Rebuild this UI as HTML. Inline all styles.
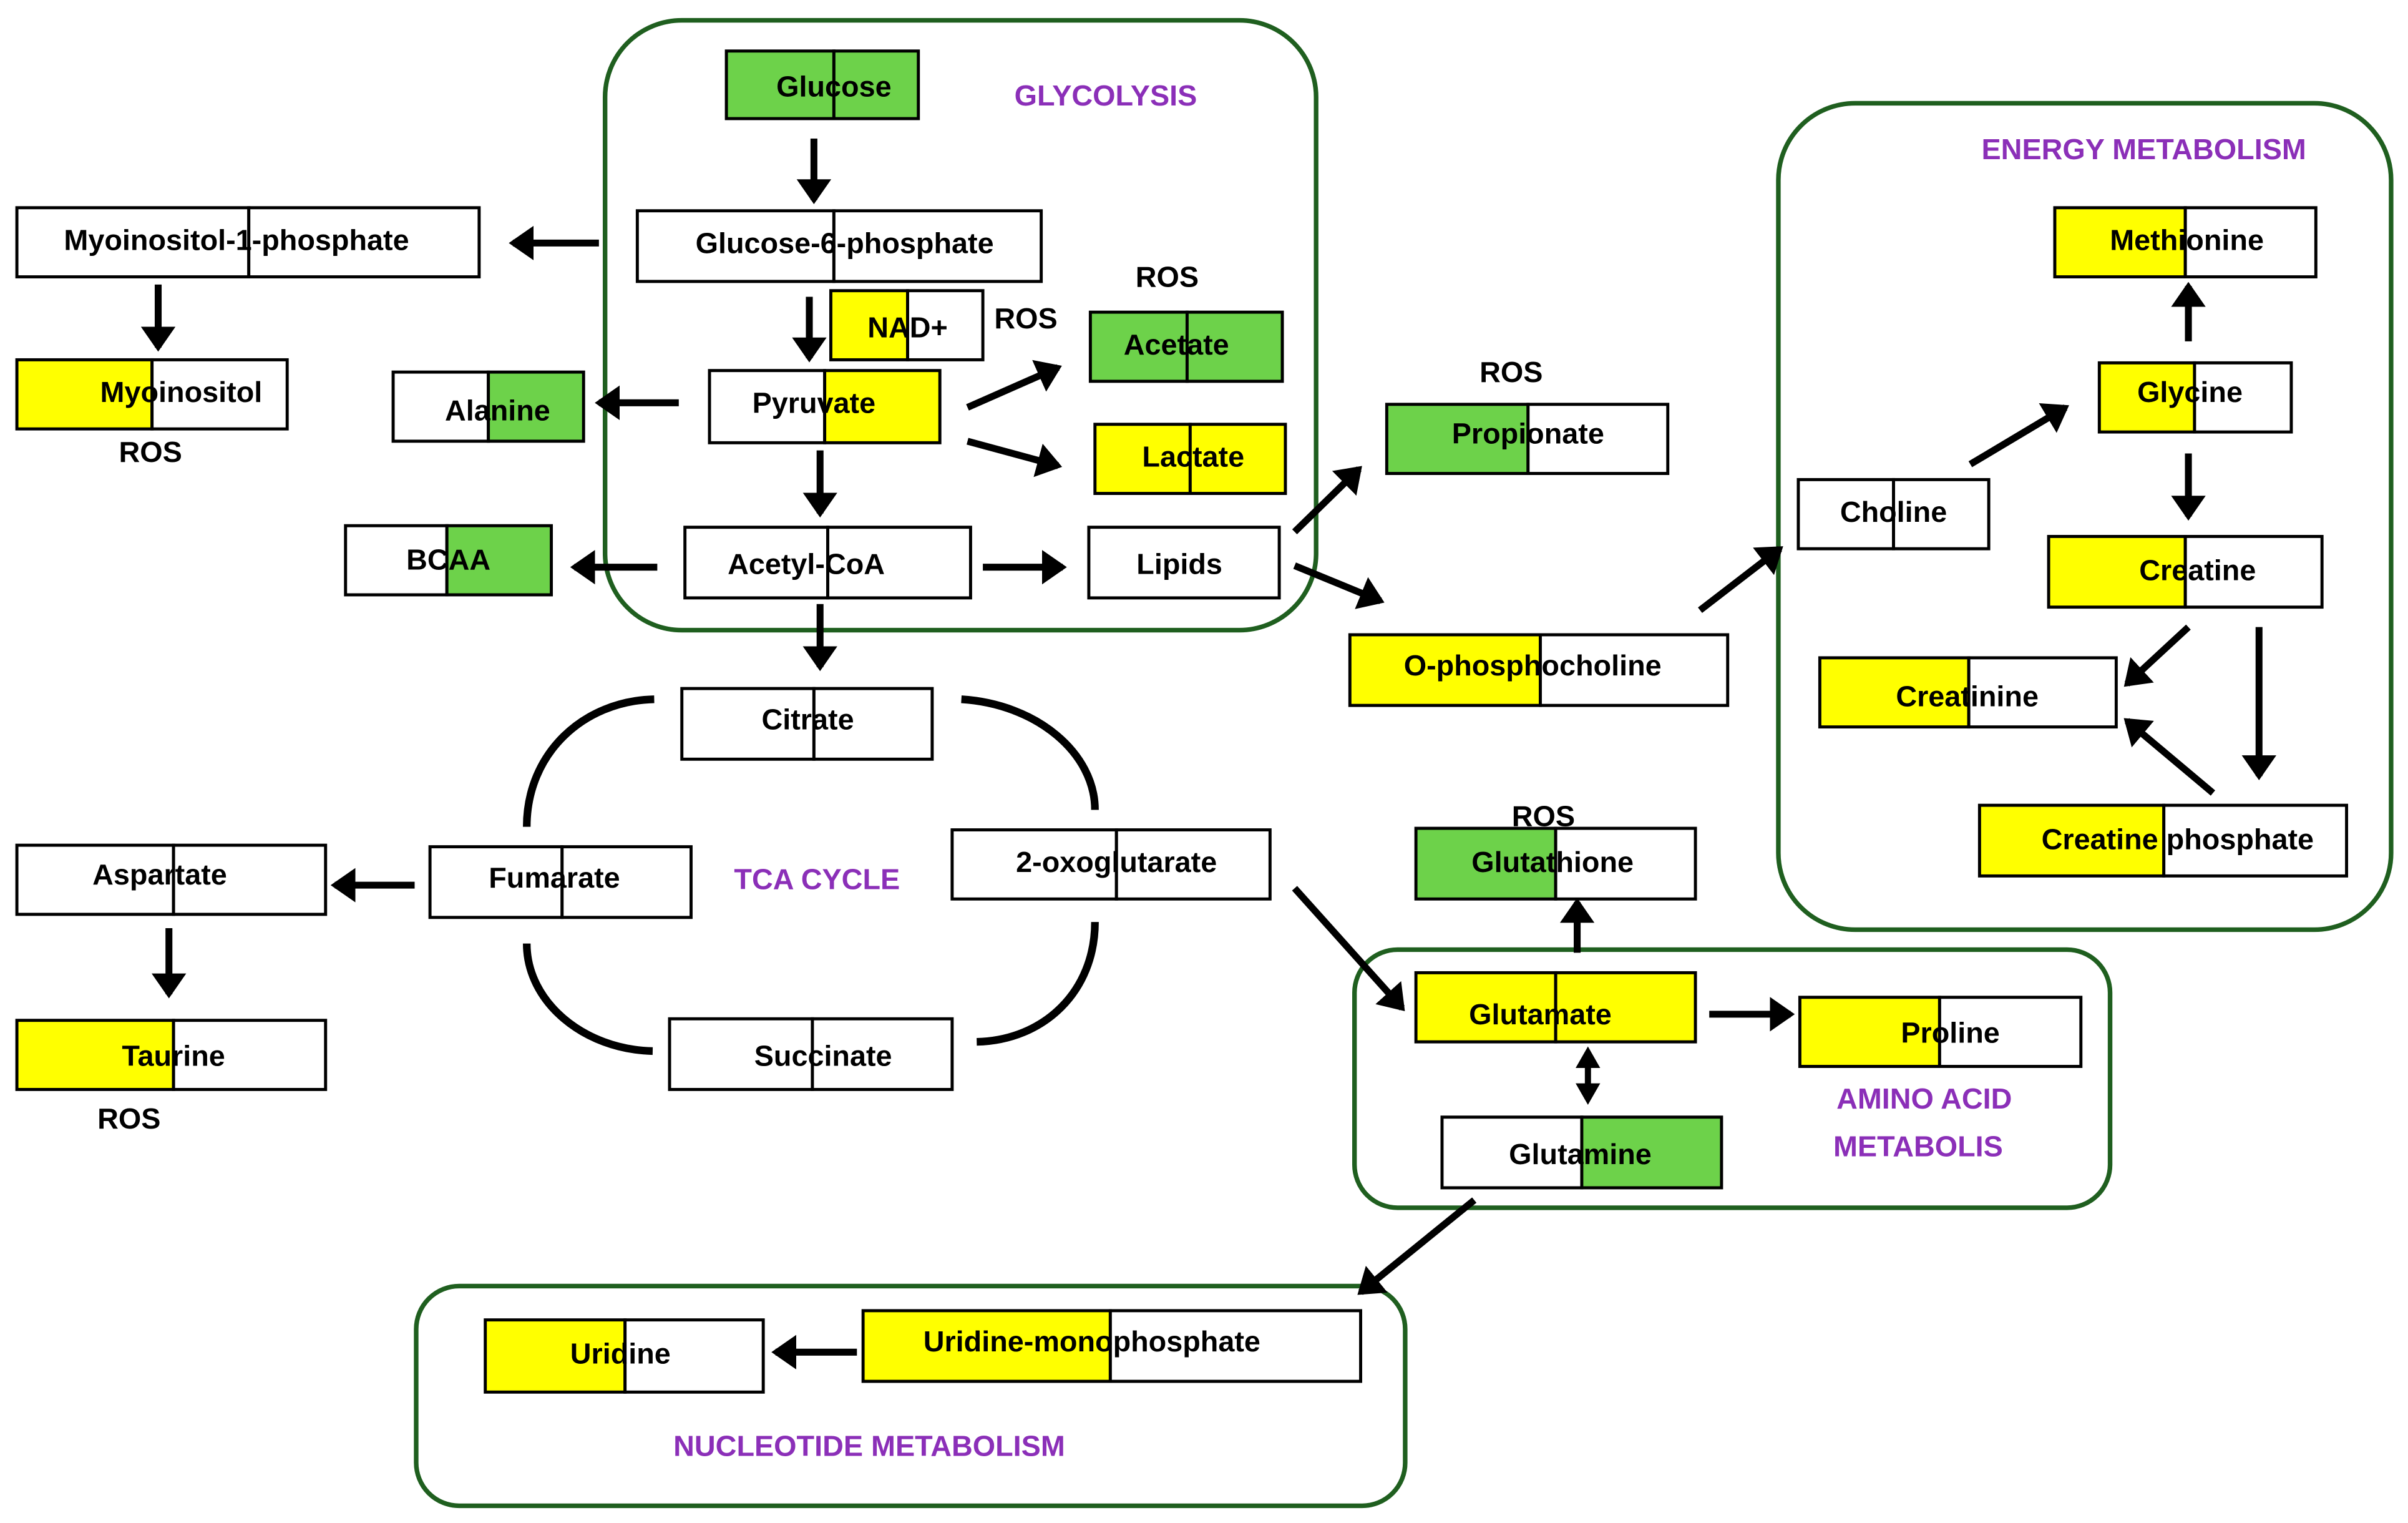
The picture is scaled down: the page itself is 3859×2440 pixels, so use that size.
<!DOCTYPE html>
<html><head><meta charset="utf-8"><style>
html,body{margin:0;padding:0;background:#fff}
svg{display:block}
text{font-family:"Liberation Sans Narrow","Liberation Sans",sans-serif;font-weight:bold}
.t{font-size:19px;fill:#000;text-anchor:middle;dominant-baseline:central}
.p{font-size:19px;fill:#8b2fb8;text-anchor:middle;dominant-baseline:central}
.r{font-size:19px;fill:#000;text-anchor:middle;dominant-baseline:central}
.a{stroke:#000;stroke-width:4.5;fill:none;marker-end:url(#h)}
.g{fill:none;stroke:#1f5f1f;stroke-width:3}
</style></head><body>
<svg width="3859" height="2440" viewBox="0 0 1568 991" xmlns="http://www.w3.org/2000/svg">
<defs><marker id="h" markerWidth="5" markerHeight="5" refX="3" refY="2.5" orient="auto" markerUnits="strokeWidth"><path d="M0,0 L3.6,2.5 L0,5 Z" fill="#000"/></marker></defs>
<rect width="1568" height="991" fill="#fff"/>
<rect class="g" x="394" y="13" width="463" height="397" rx="50"/>
<rect class="g" x="1158" y="67" width="399" height="538" rx="50"/>
<rect class="g" x="882" y="618" width="492" height="168" rx="28"/>
<rect class="g" x="271" y="837" width="644" height="143" rx="28"/>
<text class="p" x="720" y="62">GLYCOLYSIS</text>
<text class="p" x="1396" y="97">ENERGY METABOLISM</text>
<text class="p" x="532" y="572">TCA CYCLE</text>
<text class="p" x="1253" y="715">AMINO ACID</text>
<text class="p" x="1249" y="746">METABOLIS</text>
<text class="p" x="566" y="941">NUCLEOTIDE METABOLISM</text>
<text class="r" x="760" y="180">ROS</text>
<text class="r" x="668" y="207">ROS</text>
<text class="r" x="984" y="242">ROS</text>
<text class="r" x="98" y="294">ROS</text>
<text class="r" x="1005" y="531">ROS</text>
<text class="r" x="84" y="728">ROS</text>
<g stroke="#000" stroke-width="2">
<rect x="473" y="33" width="70" height="44" fill="#6dd24a"/><rect x="543" y="33" width="55" height="44" fill="#6dd24a"/>
<rect x="415" y="137" width="128" height="46" fill="#fff"/><rect x="543" y="137" width="135" height="46" fill="#fff"/>
<rect x="541" y="189" width="50" height="45" fill="#ffff00"/><rect x="591" y="189" width="49" height="45" fill="#fff"/>
<rect x="462" y="241" width="75" height="47" fill="#fff"/><rect x="537" y="241" width="75" height="47" fill="#ffff00"/>
<rect x="710" y="203" width="63" height="45" fill="#6dd24a"/><rect x="773" y="203" width="62" height="45" fill="#6dd24a"/>
<rect x="713" y="276" width="62" height="45" fill="#ffff00"/><rect x="775" y="276" width="62" height="45" fill="#ffff00"/>
<rect x="446" y="343" width="93" height="46" fill="#fff"/><rect x="539" y="343" width="93" height="46" fill="#fff"/>
<rect x="709" y="343" width="124" height="46" fill="#fff"/>
<rect x="11" y="135" width="151" height="45" fill="#fff"/><rect x="162" y="135" width="150" height="45" fill="#fff"/>
<rect x="11" y="234" width="88" height="45" fill="#ffff00"/><rect x="99" y="234" width="88" height="45" fill="#fff"/>
<rect x="256" y="242" width="62" height="45" fill="#fff"/><rect x="318" y="242" width="62" height="45" fill="#6dd24a"/>
<rect x="225" y="342" width="66" height="45" fill="#fff"/><rect x="291" y="342" width="68" height="45" fill="#6dd24a"/>
<rect x="444" y="448" width="86" height="46" fill="#fff"/><rect x="530" y="448" width="77" height="46" fill="#fff"/>
<rect x="280" y="551" width="86" height="46" fill="#fff"/><rect x="366" y="551" width="84" height="46" fill="#fff"/>
<rect x="620" y="540" width="107" height="45" fill="#fff"/><rect x="727" y="540" width="100" height="45" fill="#fff"/>
<rect x="436" y="663" width="93" height="46" fill="#fff"/><rect x="529" y="663" width="91" height="46" fill="#fff"/>
<rect x="11" y="550" width="102" height="45" fill="#fff"/><rect x="113" y="550" width="99" height="45" fill="#fff"/>
<rect x="11" y="664" width="102" height="45" fill="#ffff00"/><rect x="113" y="664" width="99" height="45" fill="#fff"/>
<rect x="903" y="263" width="92" height="45" fill="#6dd24a"/><rect x="995" y="263" width="91" height="45" fill="#fff"/>
<rect x="879" y="413" width="124" height="46" fill="#ffff00"/><rect x="1003" y="413" width="122" height="46" fill="#fff"/>
<rect x="922" y="539" width="91" height="46" fill="#6dd24a"/><rect x="1013" y="539" width="91" height="46" fill="#fff"/>
<rect x="922" y="633" width="91" height="45" fill="#ffff00"/><rect x="1013" y="633" width="91" height="45" fill="#ffff00"/>
<rect x="1172" y="649" width="91" height="45" fill="#ffff00"/><rect x="1263" y="649" width="92" height="45" fill="#fff"/>
<rect x="939" y="727" width="91" height="46" fill="#fff"/><rect x="1030" y="727" width="91" height="46" fill="#6dd24a"/>
<rect x="1338" y="135" width="85" height="45" fill="#ffff00"/><rect x="1423" y="135" width="85" height="45" fill="#fff"/>
<rect x="1367" y="236" width="62" height="45" fill="#ffff00"/><rect x="1429" y="236" width="63" height="45" fill="#fff"/>
<rect x="1171" y="312" width="62" height="45" fill="#fff"/><rect x="1233" y="312" width="62" height="45" fill="#fff"/>
<rect x="1334" y="349" width="89" height="46" fill="#ffff00"/><rect x="1423" y="349" width="89" height="46" fill="#fff"/>
<rect x="1185" y="428" width="97" height="45" fill="#ffff00"/><rect x="1282" y="428" width="96" height="45" fill="#fff"/>
<rect x="1289" y="524" width="120" height="46" fill="#ffff00"/><rect x="1409" y="524" width="119" height="46" fill="#fff"/>
<rect x="316" y="859" width="91" height="47" fill="#ffff00"/><rect x="407" y="859" width="90" height="47" fill="#fff"/>
<rect x="562" y="853" width="161" height="46" fill="#ffff00"/><rect x="723" y="853" width="163" height="46" fill="#fff"/>
</g>
<text class="t" x="543" y="56">Glucose</text>
<text class="t" x="550" y="158">Glucose-6-phosphate</text>
<text class="t" x="591" y="213">NAD+</text>
<text class="t" x="530" y="262">Pyruvate</text>
<text class="t" x="766" y="224">Acetate</text>
<text class="t" x="777" y="297">Lactate</text>
<text class="t" x="525" y="367">Acetyl-CoA</text>
<text class="t" x="768" y="367">Lipids</text>
<text class="t" x="154" y="156">Myoinositol-1-phosphate</text>
<text class="t" x="118" y="255">Myoinositol</text>
<text class="t" x="324" y="267">Alanine</text>
<text class="t" x="292" y="364">BCAA</text>
<text class="t" x="526" y="468">Citrate</text>
<text class="t" x="361" y="571">Fumarate</text>
<text class="t" x="727" y="561">2-oxoglutarate</text>
<text class="t" x="536" y="687">Succinate</text>
<text class="t" x="104" y="569">Aspartate</text>
<text class="t" x="113" y="687">Taurine</text>
<text class="t" x="995" y="282">Propionate</text>
<text class="t" x="998" y="433">O-phosphocholine</text>
<text class="t" x="1011" y="561">Glutathione</text>
<text class="t" x="1003" y="660">Glutamate</text>
<text class="t" x="1270" y="672">Proline</text>
<text class="t" x="1029" y="751">Glutamine</text>
<text class="t" x="1424" y="156">Methionine</text>
<text class="t" x="1426" y="255">Glycine</text>
<text class="t" x="1233" y="333">Choline</text>
<text class="t" x="1431" y="371">Creatine</text>
<text class="t" x="1281" y="453">Creatinine</text>
<text class="t" x="1418" y="546">Creatine phosphate</text>
<text class="t" x="404" y="881">Uridine</text>
<text class="t" x="711" y="873">Uridine-monophosphate</text>
<g>
<line class="a" x1="530" y1="90" x2="530" y2="130"/>
<line class="a" x1="390" y1="158" x2="334" y2="158"/>
<line class="a" x1="103" y1="185" x2="103" y2="226"/>
<line class="a" x1="527" y1="193" x2="527" y2="233"/>
<line class="a" x1="442" y1="262" x2="390" y2="262"/>
<line class="a" x1="630" y1="265" x2="689" y2="239"/>
<line class="a" x1="630" y1="287" x2="689" y2="303"/>
<line class="a" x1="534" y1="293" x2="534" y2="334"/>
<line class="a" x1="428" y1="369" x2="374" y2="369"/>
<line class="a" x1="640" y1="369" x2="692" y2="369"/>
<line class="a" x1="534" y1="393" x2="534" y2="434"/>
<line class="a" x1="843" y1="346" x2="885" y2="305"/>
<line class="a" x1="843" y1="368" x2="899" y2="391"/>
<line class="a" x1="1107" y1="397" x2="1159" y2="357"/>
<line class="a" x1="1283" y1="302" x2="1345" y2="265"/>
<line class="a" x1="1425" y1="222" x2="1425" y2="186"/>
<line class="a" x1="1425" y1="295" x2="1425" y2="336"/>
<line class="a" x1="1425" y1="408" x2="1385" y2="445"/>
<line class="a" x1="1471" y1="408" x2="1471" y2="505"/>
<line class="a" x1="1441" y1="516" x2="1385" y2="469"/>
<line class="a" x1="270" y1="576" x2="218" y2="576"/>
<line class="a" x1="110" y1="604" x2="110" y2="647"/>
<line class="a" x1="843" y1="578" x2="913" y2="656"/>
<line class="a" x1="1027" y1="620" x2="1027" y2="587"/>
<line class="a" x1="1113" y1="660" x2="1166" y2="660"/>
<line x1="1034" y1="692" x2="1034" y2="708" stroke="#000" stroke-width="4"/>
<polygon points="1026,695 1042,695 1034,681" fill="#000"/>
<polygon points="1026,705 1042,705 1034,719" fill="#000"/>
<line class="a" x1="960" y1="781" x2="886" y2="841"/>
<line class="a" x1="558" y1="880" x2="505" y2="880"/>
</g>
<g fill="none" stroke="#000" stroke-width="5">
<path d="M343,538 C343,490 380,456 426,455"/>
<path d="M626,455 C675,458 713,490 713,527"/>
<path d="M713,600 C713,645 680,677 636,678"/>
<path d="M343,614 C343,652 380,683 425,684"/>
</g>
</svg>
</body></html>
